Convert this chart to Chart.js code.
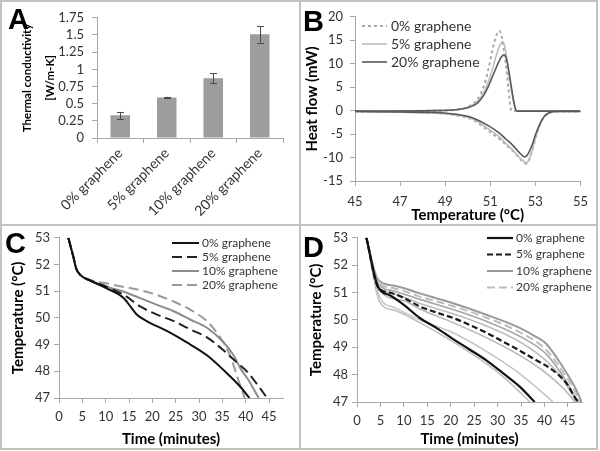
<!DOCTYPE html>
<html><head><meta charset="utf-8">
<script src="https://cdn.jsdelivr.net/npm/chart.js@4/dist/chart.umd.min.js"></script>
<style>
html,body{margin:0;padding:0;background:#fff;}
#fig{position:relative;width:600px;height:451px;overflow:hidden;background:#fff;}
.fr{position:absolute;background:#c2c2c2;}
canvas{position:absolute;}
</style></head><body>
<div id="fig">
<canvas id="cA" width="297" height="222" style="left:2px;top:2px"></canvas>
<canvas id="cB" width="295" height="222" style="left:301px;top:2px"></canvas>
<canvas id="cC" width="297" height="222" style="left:2px;top:226px"></canvas>
<canvas id="cD" width="295" height="222" style="left:301px;top:226px"></canvas>
<div class="fr" style="left:0;top:0;width:598px;height:2px"></div>
<div class="fr" style="left:0;top:448px;width:598px;height:2px"></div>
<div class="fr" style="left:0;top:0;width:2px;height:450px"></div>
<div class="fr" style="left:596px;top:0;width:2px;height:450px"></div>
<div class="fr" style="left:299px;top:0;width:2px;height:450px"></div>
<div class="fr" style="left:0;top:224px;width:598px;height:2px"></div>
</div>
<script>
// ---------- Panel A: thermal conductivity ----------
const A_CATEGORIES = ['0% graphene', '5% graphene', '10% graphene', '20% graphene'];
const A_VALUES = [0.33, 0.59, 0.87, 1.51];
const A_ERRORS = [0.05, 0.01, 0.07, 0.12];
const A_YTICKS = [0, 0.25, 0.5, 0.75, 1, 1.25, 1.5, 1.75];

// ---------- Panel B: DSC heat flow (temperature °C, heat flow mW) ----------
const B_XTICKS = [45, 47, 49, 51, 53, 55];
const B_YTICKS = [-15, -10, -5, 0, 5, 10, 15, 20];
const B_0_UP = [[45,-0.1],[47,-0.1],[48.5,0],[49.5,0.2],[50,0.8],[50.4,2.2],[50.7,5],[50.9,8.5],[51.1,13],[51.3,16.4],[51.4,17],[51.5,16],[51.6,13],[51.7,9.5],[51.8,5],[51.9,0.5],[52,-0.1],[55,-0.1]];
const B_5_UP = [[45,-0.1],[48.5,0],[49.5,0.2],[50,0.7],[50.4,1.8],[50.7,3.8],[50.9,6],[51.1,9],[51.3,12.3],[51.45,14.2],[51.55,14.7],[51.65,13.5],[51.75,10.5],[51.85,7],[51.95,4],[52.05,1.5],[52.15,0],[52.25,-0.1],[55,-0.1]];
const B_20_UP = [[45,-0.1],[48.5,0],[49.5,0.2],[50,0.6],[50.4,1.5],[50.7,3.2],[50.9,5],[51.1,7.3],[51.3,9.6],[51.5,11.5],[51.62,11.9],[51.72,11],[51.82,8.5],[51.92,5.5],[52.02,2.5],[52.12,0.3],[52.2,-0.1],[55,-0.1]];
const B_0_DOWN = [[45,-0.2],[47,-0.3],[48.5,-0.5],[49.5,-1.0],[50.2,-1.9],[50.95,-4.4],[51.4,-6],[51.7,-7.3],[52,-8.6],[52.3,-10.2],[52.5,-11.1],[52.6,-11.3],[52.7,-10.8],[52.85,-8.7],[53,-6],[53.15,-3.6],[53.3,-2],[53.5,-0.9],[53.75,-0.3],[54,-0.2],[55,-0.2]];
const B_5_DOWN = [[45,-0.2],[47,-0.3],[48.5,-0.5],[49.5,-0.9],[50.2,-1.7],[50.95,-4.0],[51.4,-5.6],[51.7,-7.0],[52,-8.4],[52.3,-10],[52.5,-10.9],[52.6,-11.1],[52.7,-10.6],[52.85,-8.5],[53,-5.8],[53.15,-3.5],[53.3,-1.9],[53.5,-0.8],[53.75,-0.3],[54,-0.2],[55,-0.2]];
const B_20_DOWN = [[45,-0.2],[47,-0.3],[48.5,-0.4],[49.5,-0.8],[50.2,-1.5],[50.95,-3.3],[51.4,-4.8],[51.7,-6.1],[52,-7.4],[52.28,-8.9],[52.45,-9.7],[52.54,-9.9],[52.65,-9.4],[52.87,-7.1],[53.0,-5.2],[53.16,-3.3],[53.3,-1.9],[53.46,-0.9],[53.75,-0.25],[54,-0.2],[55,-0.2]];

// ---------- Panels C/D: cooling curves (time min, temperature °C) ----------
const T_XTICKS = [0, 5, 10, 15, 20, 25, 30, 35, 40, 45];
const T_YTICKS = [47, 48, 49, 50, 51, 52, 53];
const C_0 = [[2,53],[3.1,52.27],[3.7,51.84],[4.6,51.6],[6.7,51.4],[10.3,51.1],[13.9,50.74],[15.3,50.43],[16.7,50.12],[18.8,49.88],[23.1,49.51],[27.4,49.08],[31.7,48.6],[35.3,48.04],[38.8,47.43],[40.8,47.0]];
const C_5 = [[2,53],[3.1,52.27],[3.7,51.84],[4.6,51.6],[6.7,51.4],[10.3,51.16],[13.9,50.86],[17.4,50.43],[21,50.12],[24.6,49.88],[28.1,49.57],[31.7,49.27],[35.3,48.78],[38,48.35],[40.5,47.95],[42.5,47.5],[44.6,47.0]];
const C_10 = [[2,53],[3.1,52.27],[3.7,51.84],[4.6,51.6],[6.7,51.4],[10.3,51.16],[13.9,50.98],[17.4,50.74],[21,50.49],[24.6,50.25],[28.1,49.94],[31.7,49.63],[35.3,49.08],[37.4,48.6],[38.9,48.1],[40.5,47.7],[42.8,47.0]];
const C_20 = [[2,53],[3.1,52.27],[3.7,51.84],[4.6,51.6],[6.7,51.42],[10.3,51.29],[13.9,51.16],[17.4,51.04],[21,50.86],[24.6,50.61],[28.1,50.31],[31.7,49.88],[33.8,49.45],[36,48.84],[37.4,48.23],[38.3,47.74],[39.8,47.0]];

const D_0_MAIN = [[2,53],[4.5,51.2],[7,50.9],[10,50.55],[13.4,50.07],[17,49.7],[20.5,49.3],[24,48.92],[27.6,48.52],[31,48.07],[34.7,47.56],[37.9,47.0]];
const D_0_RUN2 = [[2,53],[4.8,50.67],[8,50.35],[13.4,49.9],[20.5,49.2],[27.6,48.4],[32,47.8],[36.9,47.0]];
const D_0_RUN3 = [[2,53],[4.8,50.85],[8,50.45],[13.4,50.0],[20.5,49.53],[27.6,48.85],[34.7,48.04],[38.5,47.5],[41.8,47.0]];
const D_5_MAIN = [[2,53],[4.5,51.2],[7,51.0],[10,50.8],[13.4,50.49],[17,50.27],[20.5,50.07],[24,49.82],[27.6,49.53],[31,49.22],[34.7,48.88],[38,48.55],[41.8,48.16],[44.7,47.68],[46.8,47.09],[47.4,47.0]];
const D_5_RUN2 = [[2,53],[4.7,51.1],[10,50.7],[13.4,50.4],[20.5,49.9],[27.6,49.35],[34.7,48.7],[40,48.1],[44,47.5],[46.5,47.0]];
const D_10_RUN1 = [[2,53],[4.5,51.47],[8,51.25],[13.4,50.97],[20.5,50.61],[27.6,50.19],[34.7,49.71],[38,49.4],[40.4,49.12],[43.9,48.28],[46.8,47.44],[47.9,47.0]];
const D_10_RUN2 = [[2,53],[4.5,51.35],[8,51.05],[13.4,50.75],[20.5,50.38],[27.6,49.95],[34.7,49.4],[40.4,48.75],[43.9,47.95],[47.2,47.0]];
const D_20_RUN1 = [[2,53],[4.5,51.4],[8,51.15],[13.4,50.85],[20.5,50.5],[27.6,50.08],[34.7,49.55],[40.4,48.9],[43.9,48.1],[46.5,47.4],[47.6,47.0]];
const D_20_RUN2 = [[2,53],[4.5,51.25],[8,50.95],[13.4,50.6],[20.5,50.22],[27.6,49.78],[34.7,49.2],[40.4,48.5],[44,47.8],[46.8,47.0]];

const PANEL_LETTERS = ['A', 'B', 'C', 'D'];
const SERIES_LABELS = ['0% graphene', '5% graphene', '10% graphene', '20% graphene'];

// ---------- helpers ----------
const FONT = 'Lato, "Open Sans", sans-serif';
Chart.defaults.font.family = FONT;
Chart.defaults.color = '#333';
const AXIS = '#a8a8a8';
const pts = arr => arr.map(p => ({x: p[0], y: p[1]}));
const fixedTicks = list => (s => { s.ticks = list.map(v => ({value: v})); });
const plainLabel = v => String(+(+v).toFixed(2));

const panelLetter = {
  id: 'panelLetter',
  afterDraw(chart, args, o) {
    const ctx = chart.ctx; ctx.save();
    ctx.font = 'bold 29px "Liberation Sans", Arial, sans-serif';
    ctx.fillStyle = '#000'; ctx.textBaseline = 'alphabetic'; ctx.textAlign = 'left';
    ctx.fillText(o.text, o.x, o.y); ctx.restore();
  }
};
const lineLegend = {
  id: 'lineLegend',
  afterDraw(chart, args, o) {
    const ctx = chart.ctx; ctx.save();
    ctx.font = o.font; ctx.textBaseline = 'middle'; ctx.textAlign = 'left';
    const items = chart.data.datasets.filter(d => d.legendOrder !== undefined)
      .sort((a, b) => a.legendOrder - b.legendOrder);
    let y = o.y;
    items.forEach(d => {
      ctx.beginPath(); ctx.setLineDash(d.borderDash || []);
      ctx.strokeStyle = d.borderColor; ctx.lineWidth = d.borderWidth;
      ctx.moveTo(o.x, y); ctx.lineTo(o.x + o.len, y); ctx.stroke();
      ctx.setLineDash([]); ctx.fillStyle = '#333';
      ctx.fillText(d.label, o.x + o.len + o.gap, y);
      y += o.step;
    });
    ctx.restore();
  }
};
const errorBars = {
  id: 'errorBars',
  afterDatasetsDraw(chart, args, o) {
    const meta = chart.getDatasetMeta(0), ys = chart.scales.y, ctx = chart.ctx;
    const vals = chart.data.datasets[0].data;
    ctx.save(); ctx.strokeStyle = '#4a4a4a'; ctx.lineWidth = 1;
    meta.data.forEach((bar, i) => {
      const t = ys.getPixelForValue(vals[i] + o.errors[i]);
      const b = ys.getPixelForValue(vals[i] - o.errors[i]);
      const x = Math.round(bar.x) + 0.5;
      ctx.beginPath();
      ctx.moveTo(x, t); ctx.lineTo(x, b);
      ctx.moveTo(x - 3.5, Math.round(t) + 0.5); ctx.lineTo(x + 3.5, Math.round(t) + 0.5);
      ctx.moveTo(x - 3.5, Math.round(b) + 0.5); ctx.lineTo(x + 3.5, Math.round(b) + 0.5);
      ctx.stroke();
    });
    ctx.restore();
  }
};

function axis(extra, fit) {
  return Object.assign({
    grid: {drawOnChartArea: false, drawTicks: true, tickLength: 5, color: AXIS},
    border: {color: AXIS, width: 1},
    afterFit: fit
  }, extra);
}
function baseOpts(pad) {
  return {responsive: false, animation: false, devicePixelRatio: 1,
    layout: {padding: pad},
    plugins: {legend: {display: false}, tooltip: {enabled: false}}};
}
function line(label, data, color, width, dash, order) {
  const d = {label, data: pts(data), borderColor: color, borderWidth: width,
    borderDash: dash || [], pointRadius: 0, fill: false,
    cubicInterpolationMode: 'monotone'};
  if (order !== undefined) d.legendOrder = order;
  return d;
}

// ---------- Chart A ----------
const oA = baseOpts({left: 0, top: 14, right: 16, bottom: 0});
oA.plugins.panelLetter = {text: PANEL_LETTERS[0], x: 6, y: 27};
oA.plugins.errorBars = {errors: A_ERRORS};
oA.scales = {
  x: axis({ticks: {font: {size: 14}, minRotation: 45, maxRotation: 45, padding: 2, color: '#333'}},
          s => { s.height = 86; }),
  y: axis({min: 0, max: 1.75, afterBuildTicks: fixedTicks(A_YTICKS),
           ticks: {autoSkip: false, callback: plainLabel, font: {size: 13}, padding: 8, color: '#333'},
           title: {display: true, text: ['Thermal conductivity', '[W/m-K]'],
                   font: {size: 11.5, weight: 'bold', lineHeight: 2.0}, color: '#000',
                   padding: {top: 14, bottom: 0}}},
          s => { s.width = 95; })
};
new Chart(document.getElementById('cA'), {
  type: 'bar',
  data: {labels: A_CATEGORIES, datasets: [{data: A_VALUES, backgroundColor: '#9d9d9d',
    barPercentage: 0.42, categoryPercentage: 1}]},
  options: oA, plugins: [errorBars, panelLetter]
});

// ---------- Chart B ----------
const oB = baseOpts({left: 0, top: 11, right: 13, bottom: 0});
oB.plugins.panelLetter = {text: PANEL_LETTERS[1], x: 2, y: 29};
oB.plugins.lineLegend = {x: 61, y: 24, step: 18, len: 25, gap: 4, font: '14px ' + FONT};
oB.scales = {
  x: axis({type: 'linear', min: 45, max: 55, afterBuildTicks: fixedTicks(B_XTICKS),
           ticks: {autoSkip: false, callback: plainLabel, font: {size: 13}, padding: 8, color: '#333'},
           title: {display: true, text: 'Temperature (°C)', font: {size: 15, weight: 'bold'}, color: '#000', padding: {top: 0, bottom: 0}}},
          s => { s.height = 43; }),
  y: axis({min: -15, max: 20, afterBuildTicks: fixedTicks(B_YTICKS),
           ticks: {autoSkip: false, callback: plainLabel, font: {size: 13}, padding: 7, color: '#333'},
           title: {display: true, text: 'Heat flow (mW)', font: {size: 15, weight: 'bold'}, color: '#000', padding: {top: 2, bottom: 0}}},
          s => { s.width = 54; })
};
new Chart(document.getElementById('cB'), {
  type: 'line',
  data: {datasets: [
    line(SERIES_LABELS[3], B_20_UP, '#595959', 1.6, [], 2),
    line(SERIES_LABELS[3], B_20_DOWN, '#595959', 1.6),
    line(SERIES_LABELS[1], B_5_UP, '#bdbdbd', 1.6, [], 1),
    line(SERIES_LABELS[1], B_5_DOWN, '#bdbdbd', 1.6),
    line(SERIES_LABELS[0], B_0_UP, '#a9a9a9', 2, [3, 3], 0),
    line(SERIES_LABELS[0], B_0_DOWN, '#a9a9a9', 2, [3, 3])
  ]},
  options: oB, plugins: [lineLegend, panelLetter]
});

// ---------- Charts C and D ----------
function tempTimeScales(yw, xh, ypad, xpad) {
  return {
    x: axis({type: 'linear', min: 0, max: 48, afterBuildTicks: fixedTicks(T_XTICKS),
             ticks: {autoSkip: false, callback: plainLabel, font: {size: 13}, padding: xpad, color: '#333'},
             title: {display: true, text: 'Time (minutes)', font: {size: 15, weight: 'bold'}, color: '#000', padding: {top: 0, bottom: 0}}},
            s => { s.height = xh; }),
    y: axis({min: 47, max: 53, afterBuildTicks: fixedTicks(T_YTICKS),
             ticks: {autoSkip: false, callback: plainLabel, font: {size: 13}, padding: 4, color: '#333'},
             title: {display: true, text: 'Temperature (°C)', font: {size: 15, weight: 'bold'}, color: '#000', padding: {top: ypad, bottom: 0}}},
            s => { s.width = yw; })
  };
}
const oC = baseOpts({left: 0, top: 9, right: 16, bottom: 0});
oC.plugins.panelLetter = {text: PANEL_LETTERS[2], x: 3, y: 27};
oC.plugins.lineLegend = {x: 170, y: 17, step: 14, len: 27, gap: 3, font: '12px ' + FONT};
oC.scales = tempTimeScales(57, 50, 7, 6);
new Chart(document.getElementById('cC'), {
  type: 'line',
  data: {datasets: [
    line(SERIES_LABELS[0], C_0, '#111', 2, [], 0),
    line(SERIES_LABELS[1], C_5, '#222', 2, [10, 5], 1),
    line(SERIES_LABELS[2], C_10, '#8c8c8c', 2, [], 2),
    line(SERIES_LABELS[3], C_20, '#9a9a9a', 2, [10, 5], 3)
  ]},
  options: oC, plugins: [lineLegend, panelLetter]
});

const oD = baseOpts({left: 0, top: 9, right: 14, bottom: 0});
oD.plugins.panelLetter = {text: PANEL_LETTERS[3], x: 2, y: 31};
oD.plugins.lineLegend = {x: 186, y: 12, step: 16.5, len: 26, gap: 3, font: '12px ' + FONT};
oD.scales = tempTimeScales(56, 46, 6, 6);
new Chart(document.getElementById('cD'), {
  type: 'line',
  data: {datasets: [
    line(SERIES_LABELS[0], D_0_MAIN, '#111', 2.2, [], 0),
    line(SERIES_LABELS[1], D_5_MAIN, '#1a1a1a', 2.2, [6, 3], 1),
    line(SERIES_LABELS[2], D_10_RUN1, '#9a9a9a', 2, [], 2),
    line(SERIES_LABELS[3], D_20_RUN1, '#bdbdbd', 2, [8, 4], 3),
    line(SERIES_LABELS[2], D_10_RUN2, '#a6a6a6', 1.6),
    line(SERIES_LABELS[3], D_20_RUN2, '#bdbdbd', 1.6),
    line(SERIES_LABELS[1], D_5_RUN2, '#b5b5b5', 1.5),
    line(SERIES_LABELS[0], D_0_RUN2, '#bdbdbd', 1.5),
    line(SERIES_LABELS[0], D_0_RUN3, '#c4c4c4', 1.5)
  ]},
  options: oD, plugins: [lineLegend, panelLetter]
});
</script>
</body></html>
